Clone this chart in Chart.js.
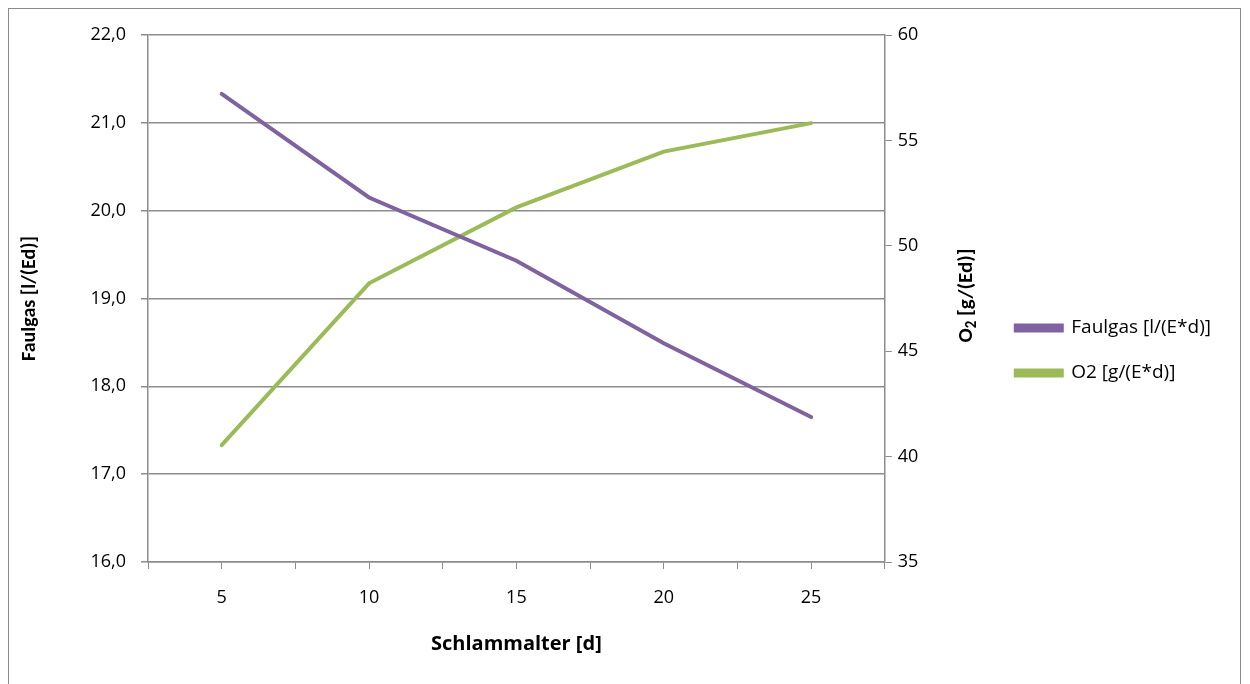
<!DOCTYPE html>
<html>
<head>
<meta charset="utf-8">
<script src="https://cdn.jsdelivr.net/npm/chart.js@4"></script>
<style>
  html, body { margin: 0; padding: 0; background: #fff; }
  #wrap { position: relative; width: 1250px; height: 684px; }
  #frame { position: absolute; left: 8px; top: 8px; width: 1231px; height: 700px; border: 1px solid #8a8a8a; }
  canvas { position: absolute; left: 0; top: 0; }
</style>
</head>
<body>
<div id="wrap">
  <div id="frame"></div>
  <canvas id="chart" width="1250" height="684"></canvas>
</div>
<script>
"use strict";
const sludgeAge = [5, 10, 15, 20, 25];
const faulgas = [21.33, 20.15, 19.43, 18.49, 17.65];
const oxygen = [40.54, 48.22, 51.82, 54.47, 55.82];
const seriesNames = ["Faulgas [l/(E*d)]", "O2 [g/(E*d)]"];
const xTitle = "Schlammalter [d]";
const leftTitle = "Faulgas [l/(Ed)]";

// horizontal text is wide in the original, vertical text is narrow
const wideFont = "'Open Sans', sans-serif";
const narrowFont = "Carlito, 'Open Sans', sans-serif";
const gray = "#8c8c8c";
const purple = "#7f63a1";
const green = "#9bbb59";

const toPoints = (ys) => sludgeAge.map((x, i) => ({ x: x, y: ys[i] }));
const comma = (v) => v.toFixed(1).replace(".", ",");

// right axis title with a subscript, reads bottom to top like the left one
const rightTitle = {
  id: "rightTitle",
  afterDraw(chart) {
    const ctx = chart.ctx;
    const area = chart.chartArea;
    const bold = "bold 21px " + narrowFont;
    const small = "bold 15px " + narrowFont;
    ctx.save();
    ctx.font = bold;
    const w1 = ctx.measureText("O").width;
    const w3 = ctx.measureText(" [g/(Ed)]").width;
    ctx.font = small;
    const w2 = ctx.measureText("2").width;
    const total = w1 + w2 + w3;
    ctx.translate(967, (area.top + area.bottom) / 2 - 3);
    ctx.rotate(-Math.PI / 2);
    ctx.fillStyle = "#000";
    ctx.textBaseline = "middle";
    let x = -total / 2;
    ctx.font = bold;
    ctx.fillText("O", x, 0);
    x += w1;
    ctx.font = small;
    ctx.fillText("2", x, 5);
    x += w2;
    ctx.font = bold;
    ctx.fillText(" [g/(Ed)]", x, 0);
    ctx.restore();
  },
};

const draw = () => {
  new Chart(document.getElementById("chart"), {
    type: "line",
    data: {
      datasets: [
        {
          label: seriesNames[0],
          data: toPoints(faulgas),
          yAxisID: "y",
          borderColor: purple,
          backgroundColor: purple,
          borderWidth: 4,
          borderCapStyle: "round",
          pointRadius: 0,
          tension: 0,
        },
        {
          label: seriesNames[1],
          data: toPoints(oxygen),
          yAxisID: "y1",
          borderColor: green,
          backgroundColor: green,
          borderWidth: 4,
          borderCapStyle: "round",
          pointRadius: 0,
          tension: 0,
        },
      ],
    },
    options: {
      responsive: false,
      animation: false,
      layout: { padding: { left: 14, top: 35, right: 29, bottom: 18 } },
      plugins: {
        tooltip: { enabled: false },
        legend: {
          position: "right",
          align: "center",
          maxWidth: 300,
          labels: {
            boxWidth: 46,
            boxHeight: 5,
            padding: 26,
            color: "#000",
            font: { family: wideFont, size: 19 },
          },
        },
      },
      scales: {
        x: {
          type: "linear",
          min: 2.5,
          max: 27.5,
          afterFit: (s) => { s.height = 104; },
          ticks: {
            stepSize: 2.5,
            padding: 18,
            color: "#000",
            font: { family: wideFont, size: 18 },
            callback: (v) => (v % 5 === 0 ? v : ""),
          },
          grid: { drawOnChartArea: false, tickLength: 7, color: gray },
          border: { color: gray, width: 1.5 },
          title: {
            display: true,
            text: xTitle,
            color: "#000",
            font: { family: wideFont, size: 20, weight: "bold" },
            padding: { top: 10, bottom: 10 },
          },
        },
        y: {
          position: "left",
          min: 16,
          max: 22,
          afterFit: (s) => { s.width = 134; },
          ticks: {
            stepSize: 1,
            padding: 15,
            color: "#000",
            font: { family: wideFont, size: 18 },
            callback: (v) => comma(v),
          },
          grid: { tickLength: 7, color: gray, lineWidth: 1.5 },
          border: { color: gray, width: 1.5 },
          title: {
            display: true,
            text: leftTitle,
            color: "#000",
            font: { family: narrowFont, size: 20, weight: "bold" },
            padding: { top: 4, bottom: 0 },
          },
        },
        y1: {
          position: "right",
          min: 35,
          max: 60,
          afterFit: (s) => { s.width = 105; },
          ticks: {
            stepSize: 5,
            padding: 6,
            color: "#000",
            font: { family: wideFont, size: 18 },
          },
          grid: { drawOnChartArea: false, tickLength: 7, color: gray },
          border: { color: gray, width: 1.5 },
        },
      },
    },
    plugins: [rightTitle],
  });
};

// make sure the fonts are ready before Chart.js measures text
Promise.all([
  document.fonts.load("19px 'Open Sans'"),
  document.fonts.load("bold 20px 'Open Sans'"),
  document.fonts.load("bold 20px Carlito"),
]).then(draw, draw);
</script>
</body>
</html>
